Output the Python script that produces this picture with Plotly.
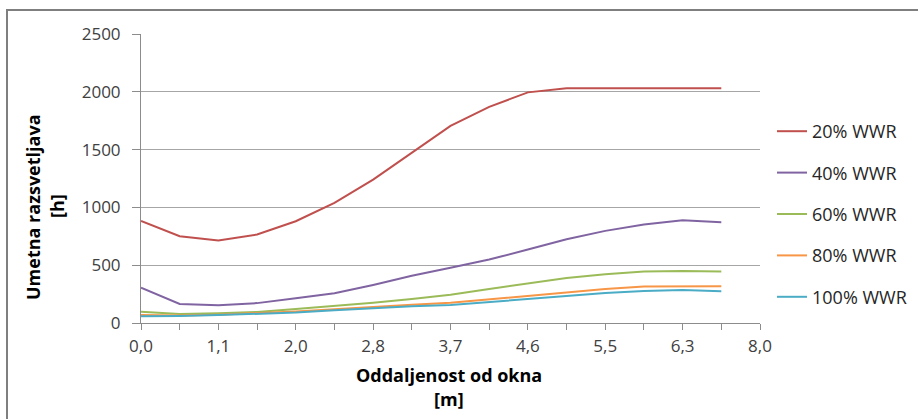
import plotly.graph_objects as go

# Category positions along the axis (16 measured points, tick labels on every second one)
tick_labels = ["0,0", "1,1", "2,0", "2,8", "3,7", "4,6", "5,5", "6,3", "8,0"]
point_index = list(range(16))

series_names = ["20% WWR", "40% WWR", "60% WWR", "80% WWR", "100% WWR"]
wwr20 = [883, 750, 713, 765, 880, 1040, 1240, 1470, 1705, 1870, 1995, 2030, 2030, 2030, 2030, 2030]
wwr40 = [306, 165, 153, 172, 215, 257, 329, 408, 478, 549, 635, 725, 797, 852, 889, 872]
wwr60 = [98, 78, 84, 95, 121, 147, 176, 208, 245, 294, 344, 390, 422, 445, 450, 445]
wwr80 = [70, 65, 72, 85, 100, 118, 140, 158, 175, 205, 240, 268, 294, 315, 318, 318]
wwr100 = [58, 60, 69, 78, 90, 110, 130, 145, 155, 182, 208, 234, 260, 277, 286, 274]
colors = ["#C0504D", "#8064A2", "#9BBB59", "#F79646", "#4BACC6"]

FONT = "Open Sans"
W, H = 918, 419
L, R, T, B = 141, 158, 34, 96
PW, PH = W - L - R, H - T - B


def px_x(p):
    return (p - L) / PW


def px_y(p):
    return (H - B - p) / PH


fig = go.Figure()
for name, vals, col in zip(series_names, [wwr20, wwr40, wwr60, wwr80, wwr100], colors):
    fig.add_trace(go.Scatter(x=point_index, y=vals, mode="lines", name=name,
                             legendgroup=name, line=dict(color=col, width=2)))

tickvals = list(range(17))
ticktext = [tick_labels[i // 2] if i % 2 == 0 else "" for i in tickvals]

fig.update_layout(
    width=W, height=H,
    margin=dict(l=L, r=R, t=T, b=B, autoexpand=False),
    paper_bgcolor="white", plot_bgcolor="white",
    font=dict(family=FONT, size=17, color="#262626"),
    showlegend=True,
    legend=dict(x=px_x(772), y=px_y(113), xanchor="left", yanchor="top",
                tracegroupgap=15, font=dict(size=18, color="#262626"),
                bgcolor="rgba(0,0,0,0)"),
    xaxis=dict(range=[0, 16], tickmode="array", tickvals=tickvals, ticktext=ticktext,
               showgrid=False, zeroline=False, showline=True, linecolor="#8c8c8c",
               linewidth=1, ticks="outside", ticklen=6, tickcolor="#8c8c8c",
               ticklabelstandoff=2, tickfont=dict(size=17, color="#404040")),
    yaxis=dict(range=[0, 2500], tickvals=[0, 500, 1000, 1500, 2000, 2500],
               showgrid=True, gridcolor="#a6a6a6", gridwidth=1, zeroline=False,
               showline=True, linecolor="#8c8c8c", linewidth=1,
               ticks="outside", ticklen=8, tickcolor="#8c8c8c",
               ticklabelstandoff=8, tickfont=dict(size=17, color="#404040")),
    annotations=[
        dict(text="<b>Oddaljenost od okna</b>", xref="paper", yref="paper",
             x=px_x(449), y=px_y(375), showarrow=False, xanchor="center", yanchor="middle",
             font=dict(size=18, color="#000000")),
        dict(text="<b>[m]</b>", xref="paper", yref="paper",
             x=px_x(449), y=px_y(399), showarrow=False, xanchor="center", yanchor="middle",
             font=dict(size=18, color="#000000")),
        dict(text="<b>Umetna razsvetljava</b>", xref="paper", yref="paper",
             x=px_x(33), y=px_y(207), showarrow=False, textangle=-90,
             xanchor="center", yanchor="middle", font=dict(size=18, color="#000000")),
        dict(text="<b>[h]</b>", xref="paper", yref="paper",
             x=px_x(57), y=px_y(206), showarrow=False, textangle=-90,
             xanchor="center", yanchor="middle", font=dict(size=18, color="#000000")),
    ],
    shapes=[dict(type="rect", xref="paper", yref="paper",
                 x0=px_x(7), x1=px_x(W + 20), y0=px_y(H + 20), y1=px_y(10),
                 line=dict(color="#7f7f7f", width=2), fillcolor="rgba(0,0,0,0)", layer="below")],
)

fig.write_html("out.html", config={"displayModeBar": False})

# remove the default page margin so the figure sits at the window origin
with open("out.html", encoding="utf-8") as f:
    html = f.read()
html = html.replace("<body>", '<body style="margin:0;padding:0;overflow:hidden">', 1)
with open("out.html", "w", encoding="utf-8") as f:
    f.write(html)
